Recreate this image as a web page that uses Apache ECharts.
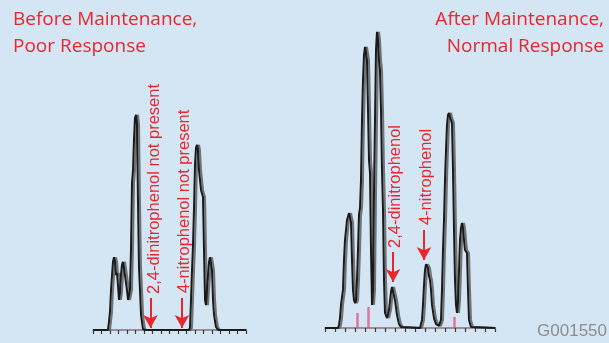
<!DOCTYPE html>
<html>
<head>
<meta charset="utf-8">
<script src="https://cdn.jsdelivr.net/npm/echarts@6/dist/echarts.min.js"></script>
<style>
html,body{margin:0;padding:0;background:#d4e6f4;}
#chart{width:609px;height:343px;}
</style>
</head>
<body>
<div id="chart"></div>
<script>
// ---- Data ----
// Before maintenance: retention time (min) and detector response
const leftTime = [0,1.76,1.88,2.00,2.12,2.24,2.35,2.47,2.59,2.71,2.82,2.94,3.06,3.18,3.29,3.41,3.53,3.65,3.76,4.00,4.12,4.24,4.35,4.47,4.59,4.71,4.82,4.94,5.06,5.18,5.29,5.41,5.53,5.65,5.88,6.12,
  11.29,11.41,11.53,11.65,11.76,11.88,12.00,12.12,12.24,12.35,12.47,12.71,12.94,13.06,13.18,13.29,13.41,13.53,13.65,13.76,13.88,14.00,14.12,14.24,14.47,14.71,18];
const leftSignal = [0,0,2.7,6,13.3,18.3,22.7,24.3,22.7,18.3,19,15,10,12.7,18.3,21.7,22.7,22.3,18.3,13.3,10,11.7,13.3,26.7,49,53.3,63.3,70.7,71.7,68.3,43.3,21,13.3,5,0.3,0,
  0,0.7,10,20,27.7,40,55,60.7,61.7,60,53.3,46.7,44.3,26.7,10,8.3,13.3,18.3,22.7,24.3,24.3,20,10,5,1,0,0];

// After maintenance
const rightTime = [0,1.3,1.4,1.5,1.6,1.7,1.8,1.9,2.0,2.2,2.4,2.5,2.6,2.7,2.8,2.9,3.0,3.1,3.2,3.3,3.4,3.5,3.6,3.7,3.8,3.9,4.0,4.1,4.2,4.3,4.4,4.5,4.6,4.7,4.8,4.9,5.0,5.1,5.2,5.3,5.4,5.5,5.6,5.7,5.8,5.9,6.0,6.2,6.4,6.6,6.7,6.8,6.9,7.0,7.2,7.4,7.6,7.8,
  9.5,9.7,9.8,9.9,10.0,10.1,10.2,10.3,10.4,10.5,10.6,10.7,10.9,11.1,11.4,11.6,11.7,11.8,11.9,12.0,12.1,12.2,12.3,12.4,12.5,12.6,12.7,12.8,12.9,13.0,13.1,13.2,13.3,13.4,13.5,13.6,13.7,13.8,13.9,14.0,14.2,14.3,14.4,14.6,14.8,17];
const rightSignal = [0,0,1,3.3,7.7,10.3,12.7,22.7,29.3,36,38.3,38.7,35.3,22.7,12.7,9.3,8.3,9.3,16,26,37.7,40,49.3,69.3,82.7,91,93.7,94.3,89.3,72.7,56,51.7,26,7.7,12.7,45,69.3,92.7,98.7,96,89.3,86,72.7,52.7,39.3,16,5,3.3,6,12,13.7,14.3,13.3,9.3,4.3,1.3,0.3,0,
  0,2.7,7.7,14.3,19.3,21.3,21.7,20,17.3,16,12.7,7.7,3.3,1.3,0.7,2.7,12.7,26,36,49.3,59.3,67.7,71,71.7,70.3,69.3,68.3,52.7,32.7,16,7.7,5,9.3,19.3,29.3,33.3,35,33.3,29.3,26,25,12.7,2.7,0.3,0,0];

// Peak-marker ticks (pink) on the After trace: time, height
const rightMarkerTime = [3.2, 4.3, 12.9];
const rightMarkerHeight = [5, 7, 3.7];

// Axis ranges
const leftRange = [0, 18];
const rightRange = [0, 17];

// Titles and annotations
const leftTitle = 'Before Maintenance,\nPoor Response';
const rightTitle = 'After Maintenance,\nNormal Response';
const figureId = 'G001550';
// panel, text, text time, text bottom response, arrow time, arrow top, arrow tip
const annoPanel = [0, 0, 1, 1];
const annoText = ['2,4-dinitrophenol not present', '4-nitrophenol not present', '2,4-dinitrophenol', '4-nitrophenol'];
const annoTextTime = [7.18, 10.71, 7.0, 10.1];
const annoTextResp = [12, 12.3, 26.7, 34.3];
const annoArrowTime = [6.76, 10.47, 6.8, 9.9];
const annoArrowTop = [10.7, 10.7, 25.3, 32.7];
const annoArrowTip = [0.7, 0.7, 15.3, 22.7];

const RED = '#e8262e';
const TITLE_FONT = '19px "Open Sans", sans-serif';

function zip(a, b) { return a.map((v, i) => [v, b[i]]); }

function arrowLines(panel) {
  const out = [];
  annoPanel.forEach((p, i) => {
    if (p !== panel) return;
    out.push([
      { coord: [annoArrowTime[i], annoArrowTop[i]], symbol: 'none' },
      { coord: [annoArrowTime[i], annoArrowTip[i]], symbol: 'arrow', symbolSize: [11, 13],
        lineStyle: { color: RED, width: 2, type: 'solid' } }
    ]);
  });
  return out;
}

const chart = echarts.init(document.getElementById('chart'), null, { renderer: 'canvas' });

function xAxisDef(range, gridIndex) {
  return {
    type: 'value', gridIndex, min: range[0], max: range[1], interval: 1,
    axisLine: { show: true, lineStyle: { color: '#8a6f7c', width: 1.5 } },
    axisTick: { show: true, length: 4, lineStyle: { color: '#3a3a3a', width: 1.2 } },
    axisLabel: { show: false }, splitLine: { show: false }
  };
}
function yAxisDef(gridIndex) {
  return { type: 'value', gridIndex, min: 0, max: 100, show: false, splitLine: { show: false } };
}

const traceStyle = {
  color: '#1a1a1a', width: 2,
  shadowColor: 'rgba(95,95,95,0.85)', shadowBlur: 0, shadowOffsetX: 2
};

const option = {
  backgroundColor: '#d4e6f4',
  animation: false,
  grid: [
    { left: 93, right: 363, top: 30, bottom: 13 },
    { left: 325, right: 114, top: 28, bottom: 15 }
  ],
  xAxis: [xAxisDef(leftRange, 0), xAxisDef(rightRange, 1)],
  yAxis: [yAxisDef(0), yAxisDef(1)],
  graphic: [
    { type: 'text', left: 13, top: 6, z: 10,
      style: { text: leftTitle, fill: RED, font: TITLE_FONT, lineHeight: 27, align: 'left' } },
    { type: 'text', x: 604, y: 6, z: 10,
      style: { text: rightTitle, fill: RED, font: TITLE_FONT, lineHeight: 27, align: 'right', verticalAlign: 'top' } },
    { type: 'text', x: 607, y: 340, z: 10,
      style: { text: figureId, fill: '#8d8d8d', font: '17px "Liberation Sans", Arial, sans-serif', align: 'right', verticalAlign: 'bottom' } }
  ],
  series: [
    {
      type: 'line', xAxisIndex: 0, yAxisIndex: 0, data: zip(leftTime, leftSignal),
      showSymbol: false, symbol: 'none', lineStyle: traceStyle, z: 3,
      markLine: { silent: true, animation: false, label: { show: false },
        lineStyle: { color: RED, width: 2, type: 'solid' }, data: arrowLines(0) }
    },
    {
      type: 'line', xAxisIndex: 1, yAxisIndex: 1, data: zip(rightTime, rightSignal),
      showSymbol: false, symbol: 'none', lineStyle: traceStyle, z: 3,
      markLine: { silent: true, animation: false, label: { show: false },
        lineStyle: { color: RED, width: 2, type: 'solid' },
        data: arrowLines(1).concat(rightMarkerTime.map((t, i) => [
          { coord: [t, 0], symbol: 'none', lineStyle: { color: 'rgba(224,80,122,0.75)', width: 2.5, type: 'solid' } },
          { coord: [t, rightMarkerHeight[i]], symbol: 'none' }
        ])) }
    }
  ]
};
chart.setOption(option);

// Rotated annotation texts placed through the axes' own scales
const annoGraphics = annoText.map((txt, i) => {
  const p = chart.convertToPixel({ xAxisIndex: annoPanel[i], yAxisIndex: annoPanel[i] }, [annoTextTime[i], annoTextResp[i]]);
  return {
    type: 'text', x: p[0], y: p[1], rotation: Math.PI / 2, z: 10,
    style: { text: txt, fill: RED, font: '16.5px "Liberation Sans", Arial, sans-serif', align: 'left', verticalAlign: 'middle' }
  };
});
chart.setOption({ graphic: option.graphic.concat(annoGraphics) });
</script>
</body>
</html>
